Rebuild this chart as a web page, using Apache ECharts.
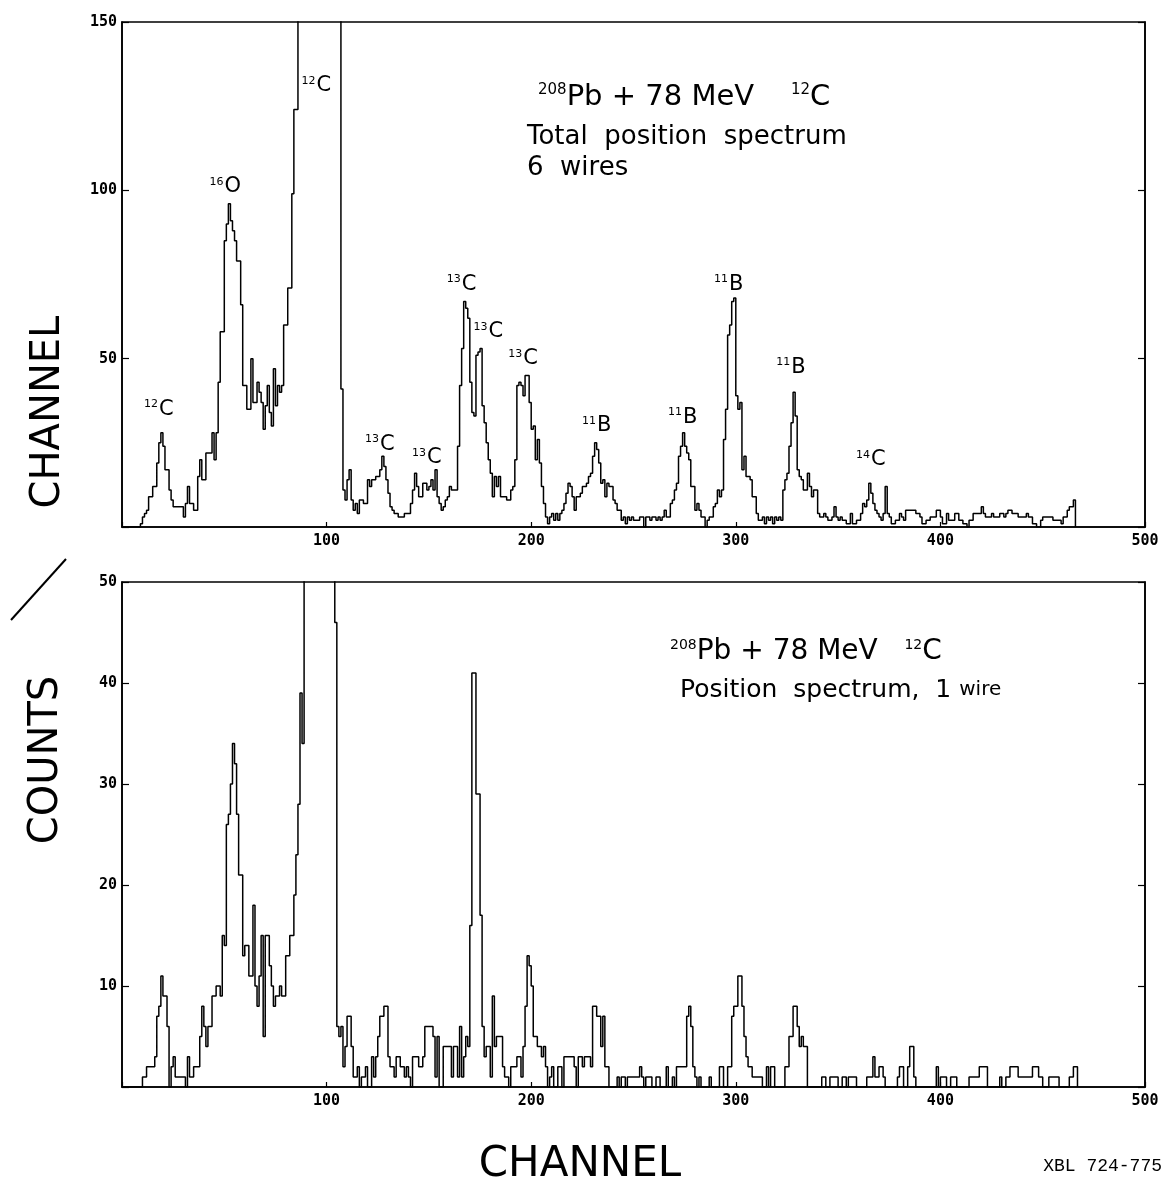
<!DOCTYPE html>
<html><head><meta charset="utf-8">
<script src="https://cdn.jsdelivr.net/npm/echarts@6/dist/echarts.min.js"></script>
<style>html,body{margin:0;padding:0;background:#fff}#c{width:1176px;height:1183px}</style>
</head><body><div id="c"></div>
<script>
// counts per channel, index = channel number (0..)
// values above the axis maximum are clipped peaks (off scale in the original)
const topCounts = [
 0,0,0,0,0,0,0,0,0,1,
 3,4,5,9,9,12,12,19,25,28,
 24,17,17,11,8,6,6,6,6,6,
 3,7,12,7,7,5,5,15,20,14,
 14,22,22,22,28,20,28,43,58,58,
 85,90,96,91,88,85,79,79,66,42,
 42,35,35,50,37,37,43,40,37,29,
 36,42,34,30,47,36,42,40,42,60,
 60,71,71,99,124,124,400,400,400,400,
 400,400,400,400,400,400,400,400,400,400,
 400,400,400,400,400,400,400,41,11,8,
 14,17,8,5,7,4,8,8,7,7,
 14,12,14,14,15,15,17,21,18,14,
 10,6,5,4,4,3,3,3,4,4,
 4,7,11,16,12,9,9,13,13,11,
 12,14,11,17,9,7,5,6,8,9,
 12,11,11,11,24,42,53,67,65,62,
 43,34,33,51,52,53,36,31,25,20,
 16,9,15,12,15,9,9,9,8,8,
 11,12,20,42,43,42,39,45,45,37,
 29,30,20,26,19,12,7,3,1,3,
 4,2,4,2,4,5,7,10,13,12,
 9,5,9,9,10,12,12,13,15,16,
 21,25,23,19,13,14,9,13,12,12,
 8,7,5,5,2,3,1,3,2,3,
 2,2,2,3,3,0,3,3,2,3,
 3,2,3,2,3,5,3,3,7,8,
 11,13,21,24,28,24,22,20,12,12,
 5,7,5,3,3,0,2,3,3,6,
 7,11,9,11,26,35,57,60,67,68,
 39,35,37,17,21,15,15,14,9,9,
 4,2,2,3,1,3,2,3,1,3,
 2,3,2,11,14,16,24,31,40,33,
 17,15,14,11,11,16,12,9,11,11,
 4,3,3,4,3,2,2,3,6,3,
 2,3,2,2,1,1,4,1,1,2,
 2,4,7,6,8,13,10,7,5,4,
 3,2,4,12,4,3,1,1,2,2,
 4,3,2,5,5,5,5,5,4,4,
 3,1,1,2,2,3,3,3,5,5,
 3,1,1,4,2,2,2,4,4,2,
 2,1,1,0,2,2,4,4,4,4,
 6,4,3,3,3,4,3,3,3,4,
 4,3,4,5,5,4,4,4,3,3,
 3,3,4,3,3,1,1,0,0,2,
 3,3,3,3,3,2,2,2,2,1,
 3,3,5,6,6,8,0
];
const bottomCounts = [
 0,0,0,0,0,0,0,0,0,0,
 1,1,2,2,2,2,3,7,8,11,
 9,9,6,0,2,3,1,1,1,1,
 1,0,3,1,1,2,2,2,5,8,
 6,4,6,6,9,9,10,10,9,15,
 14,26,27,30,34,32,27,21,21,13,
 14,14,11,11,18,10,8,11,15,5,
 15,15,12,10,8,9,9,10,9,9,
 13,13,15,15,19,23,28,39,34,200,
 200,200,200,200,200,200,200,200,200,200,
 200,200,200,200,46,6,5,6,2,4,
 7,7,4,1,1,2,0,1,1,2,
 0,0,3,1,3,5,7,7,8,8,
 3,2,2,1,3,3,2,2,1,2,
 1,0,3,3,3,2,2,3,6,6,
 6,6,5,1,5,0,0,4,4,4,
 4,1,4,4,1,6,1,3,5,4,
 16,41,41,29,29,17,6,3,4,4,
 1,9,4,5,5,5,2,1,1,0,
 2,2,2,3,3,1,4,8,13,12,
 10,5,5,4,4,3,4,2,0,1,
 2,0,0,2,2,0,3,3,3,3,
 3,2,0,3,3,2,3,3,3,2,
 8,8,7,7,4,7,2,2,0,0,
 0,0,1,0,1,1,0,1,1,1,
 1,1,1,2,1,0,1,1,1,0,
 0,1,1,0,0,0,2,0,0,1,
 0,2,2,2,2,2,7,8,6,2,
 1,0,1,0,0,0,0,1,0,0,
 0,0,2,2,0,0,2,2,7,8,
 8,11,11,8,5,3,2,2,1,1,
 1,1,1,0,0,2,0,2,2,0,
 0,0,0,0,2,2,5,5,8,8,
 6,4,5,4,4,0,0,0,0,0,
 0,0,1,1,0,0,1,1,1,1,
 0,0,1,1,0,1,1,1,1,0,
 0,0,0,0,1,1,1,3,1,1,
 2,2,1,0,0,0,0,0,0,1,
 2,2,0,0,2,4,4,1,0,0,
 0,0,0,0,0,0,0,0,2,0,
 1,1,1,0,0,1,1,1,0,0,
 0,0,0,0,1,1,1,1,1,2,
 2,2,2,0,0,0,0,0,0,1,
 0,0,1,1,2,2,2,2,1,1,
 1,1,1,1,1,2,2,2,1,1,
 0,0,0,1,1,1,1,1,0,0,
 0,0,0,1,1,2,2,0
];
// axis ranges / ticks
const xRange = [0, 500], xStep = 100;
const topYRange = [0, 150], topYStep = 50;
const bottomYRange = [0, 50], bottomYStep = 10;
// peak identifications: [mass number, element, channel, counts] (label anchor in data units)
const topPeakLabels = [
 ['12','C',95,131], ['16','O',50.5,101], ['12','C',18,35],
 ['13','C',126,24.5], ['13','C',149,20.5], ['13','C',166,72],
 ['13','C',179,58], ['13','C',196,50], ['11','B',232,30],
 ['11','B',274,32.5], ['11','B',296.5,72], ['11','B',327,47.5],
 ['14','C',366,20]
];

const chart = echarts.init(document.getElementById('c'), null, {renderer:'canvas'});
const LETTER = '"DejaVu Sans", sans-serif';
const MONO = '"DejaVu Sans Mono", monospace';

function xAxisFor(g){
  return {gridIndex:g, type:'value', min:xRange[0], max:xRange[1], interval:xStep,
    axisLine:{show:true, onZero:false, lineStyle:{color:'#000', width:1.6}},
    axisTick:{show:true, inside:true, length:5, lineStyle:{color:'#000', width:1.2}},
    axisLabel:{formatter:v=>v===0?'':String(v), color:'#000', fontFamily:MONO, fontWeight:'bold', fontSize:15, margin:7},
    splitLine:{show:false}};
}
function yAxisFor(g, range, step, pos){
  return {gridIndex:g, type:'value', position:pos, min:range[0], max:range[1], interval:step,
    axisLine:{show:true, lineStyle:{color:'#000', width:1.6}},
    axisTick:{show:true, inside:true, length:7, lineStyle:{color:'#000', width:1.2}},
    axisLabel:{show:pos==='left', formatter:v=>v===0?'':String(v), color:'#000', fontFamily:MONO, fontWeight:'bold', fontSize:15, margin:5},
    splitLine:{show:false}};
}
function histSeries(counts, xi, yi){
  return {type:'line', xAxisIndex:xi, yAxisIndex:yi, data:counts.map((v,i)=>[i,v]),
    step:'end', symbol:'none', showSymbol:false, clip:true, animation:false,
    lineStyle:{color:'#000', width:1.5}, z:3};
}
const peakRich = {
  s:{fontSize:11, fontFamily:LETTER, color:'#000', verticalAlign:'top', padding:[0,1,0,0]},
  e:{fontSize:21, fontFamily:LETTER, color:'#000'}
};

const option = {
  backgroundColor:'#fff',
  animation:false,
  grid:[
    {left:122, top:22, width:1023, height:505, show:true, borderColor:'#000', borderWidth:1.6, backgroundColor:'transparent'},
    {left:122, top:582, width:1023, height:505, show:true, borderColor:'#000', borderWidth:1.6, backgroundColor:'transparent'}
  ],
  xAxis:[xAxisFor(0), xAxisFor(1)],
  yAxis:[
    yAxisFor(0, topYRange, topYStep, 'left'),
    yAxisFor(0, topYRange, topYStep, 'right'),
    yAxisFor(1, bottomYRange, bottomYStep, 'left'),
    yAxisFor(1, bottomYRange, bottomYStep, 'right')
  ],
  series:[
    histSeries(topCounts, 0, 0),
    histSeries(bottomCounts, 1, 2),
    {type:'scatter', xAxisIndex:0, yAxisIndex:0, symbol:'circle', symbolSize:0,
     itemStyle:{color:'#000', opacity:1}, silent:true, z:5,
     data: topPeakLabels.map(p=>({value:[p[2],p[3]], mass:p[0], el:p[1]})),
     label:{show:true, position:'inside', color:'#000', opacity:1, textBorderWidth:0,
       formatter:p=>'{s|'+p.data.mass+'}{e|'+p.data.el+'}', rich:peakRich}}
  ],
  graphic:[
    {type:'text', x:538, y:97, style:{text:'{s|208}{b|Pb + 78 MeV    }{s|12}{b|C}', fill:'#000', verticalAlign:'middle',
      rich:{s:{fontSize:15, fontFamily:LETTER, verticalAlign:'top'}, b:{fontSize:29, fontFamily:LETTER}}}},
    {type:'text', x:527, y:137, style:{text:'Total  position  spectrum', fill:'#000', font:'26px '+LETTER, verticalAlign:'middle'}},
    {type:'text', x:527, y:168, style:{text:'6  wires', fill:'#000', font:'26px '+LETTER, verticalAlign:'middle'}},
    {type:'text', x:670, y:652, style:{text:'{s|208}{b|Pb + 78 MeV   }{s|12}{b|C}', fill:'#000', verticalAlign:'middle',
      rich:{s:{fontSize:14, fontFamily:LETTER, verticalAlign:'top'}, b:{fontSize:28, fontFamily:LETTER}}}},
    {type:'text', x:680, y:690, style:{text:'{b|Position  spectrum,  1 }{w|wire}', fill:'#000', verticalAlign:'middle',
      rich:{b:{fontSize:25, fontFamily:LETTER}, w:{fontSize:20, fontFamily:LETTER}}}},
    {type:'text', x:49, y:412, rotation:Math.PI/2, style:{text:'CHANNEL', fill:'#000', font:'40px '+LETTER, align:'center', verticalAlign:'middle'}},
    {type:'text', x:47, y:760, rotation:Math.PI/2, style:{text:'COUNTS', fill:'#000', font:'40px '+LETTER, align:'center', verticalAlign:'middle'}},
    {type:'line', shape:{x1:11, y1:620, x2:66, y2:559}, style:{stroke:'#000', lineWidth:2}},
    {type:'text', x:580, y:1165, style:{text:'CHANNEL', fill:'#000', font:'42px '+LETTER, align:'center', verticalAlign:'middle'}},
    {type:'text', x:1162, y:1166, style:{text:'XBL 724-775', fill:'#000', font:'18px "Liberation Mono", monospace', align:'right', verticalAlign:'middle'}}
  ]
};
chart.setOption(option);
</script>
</body></html>
